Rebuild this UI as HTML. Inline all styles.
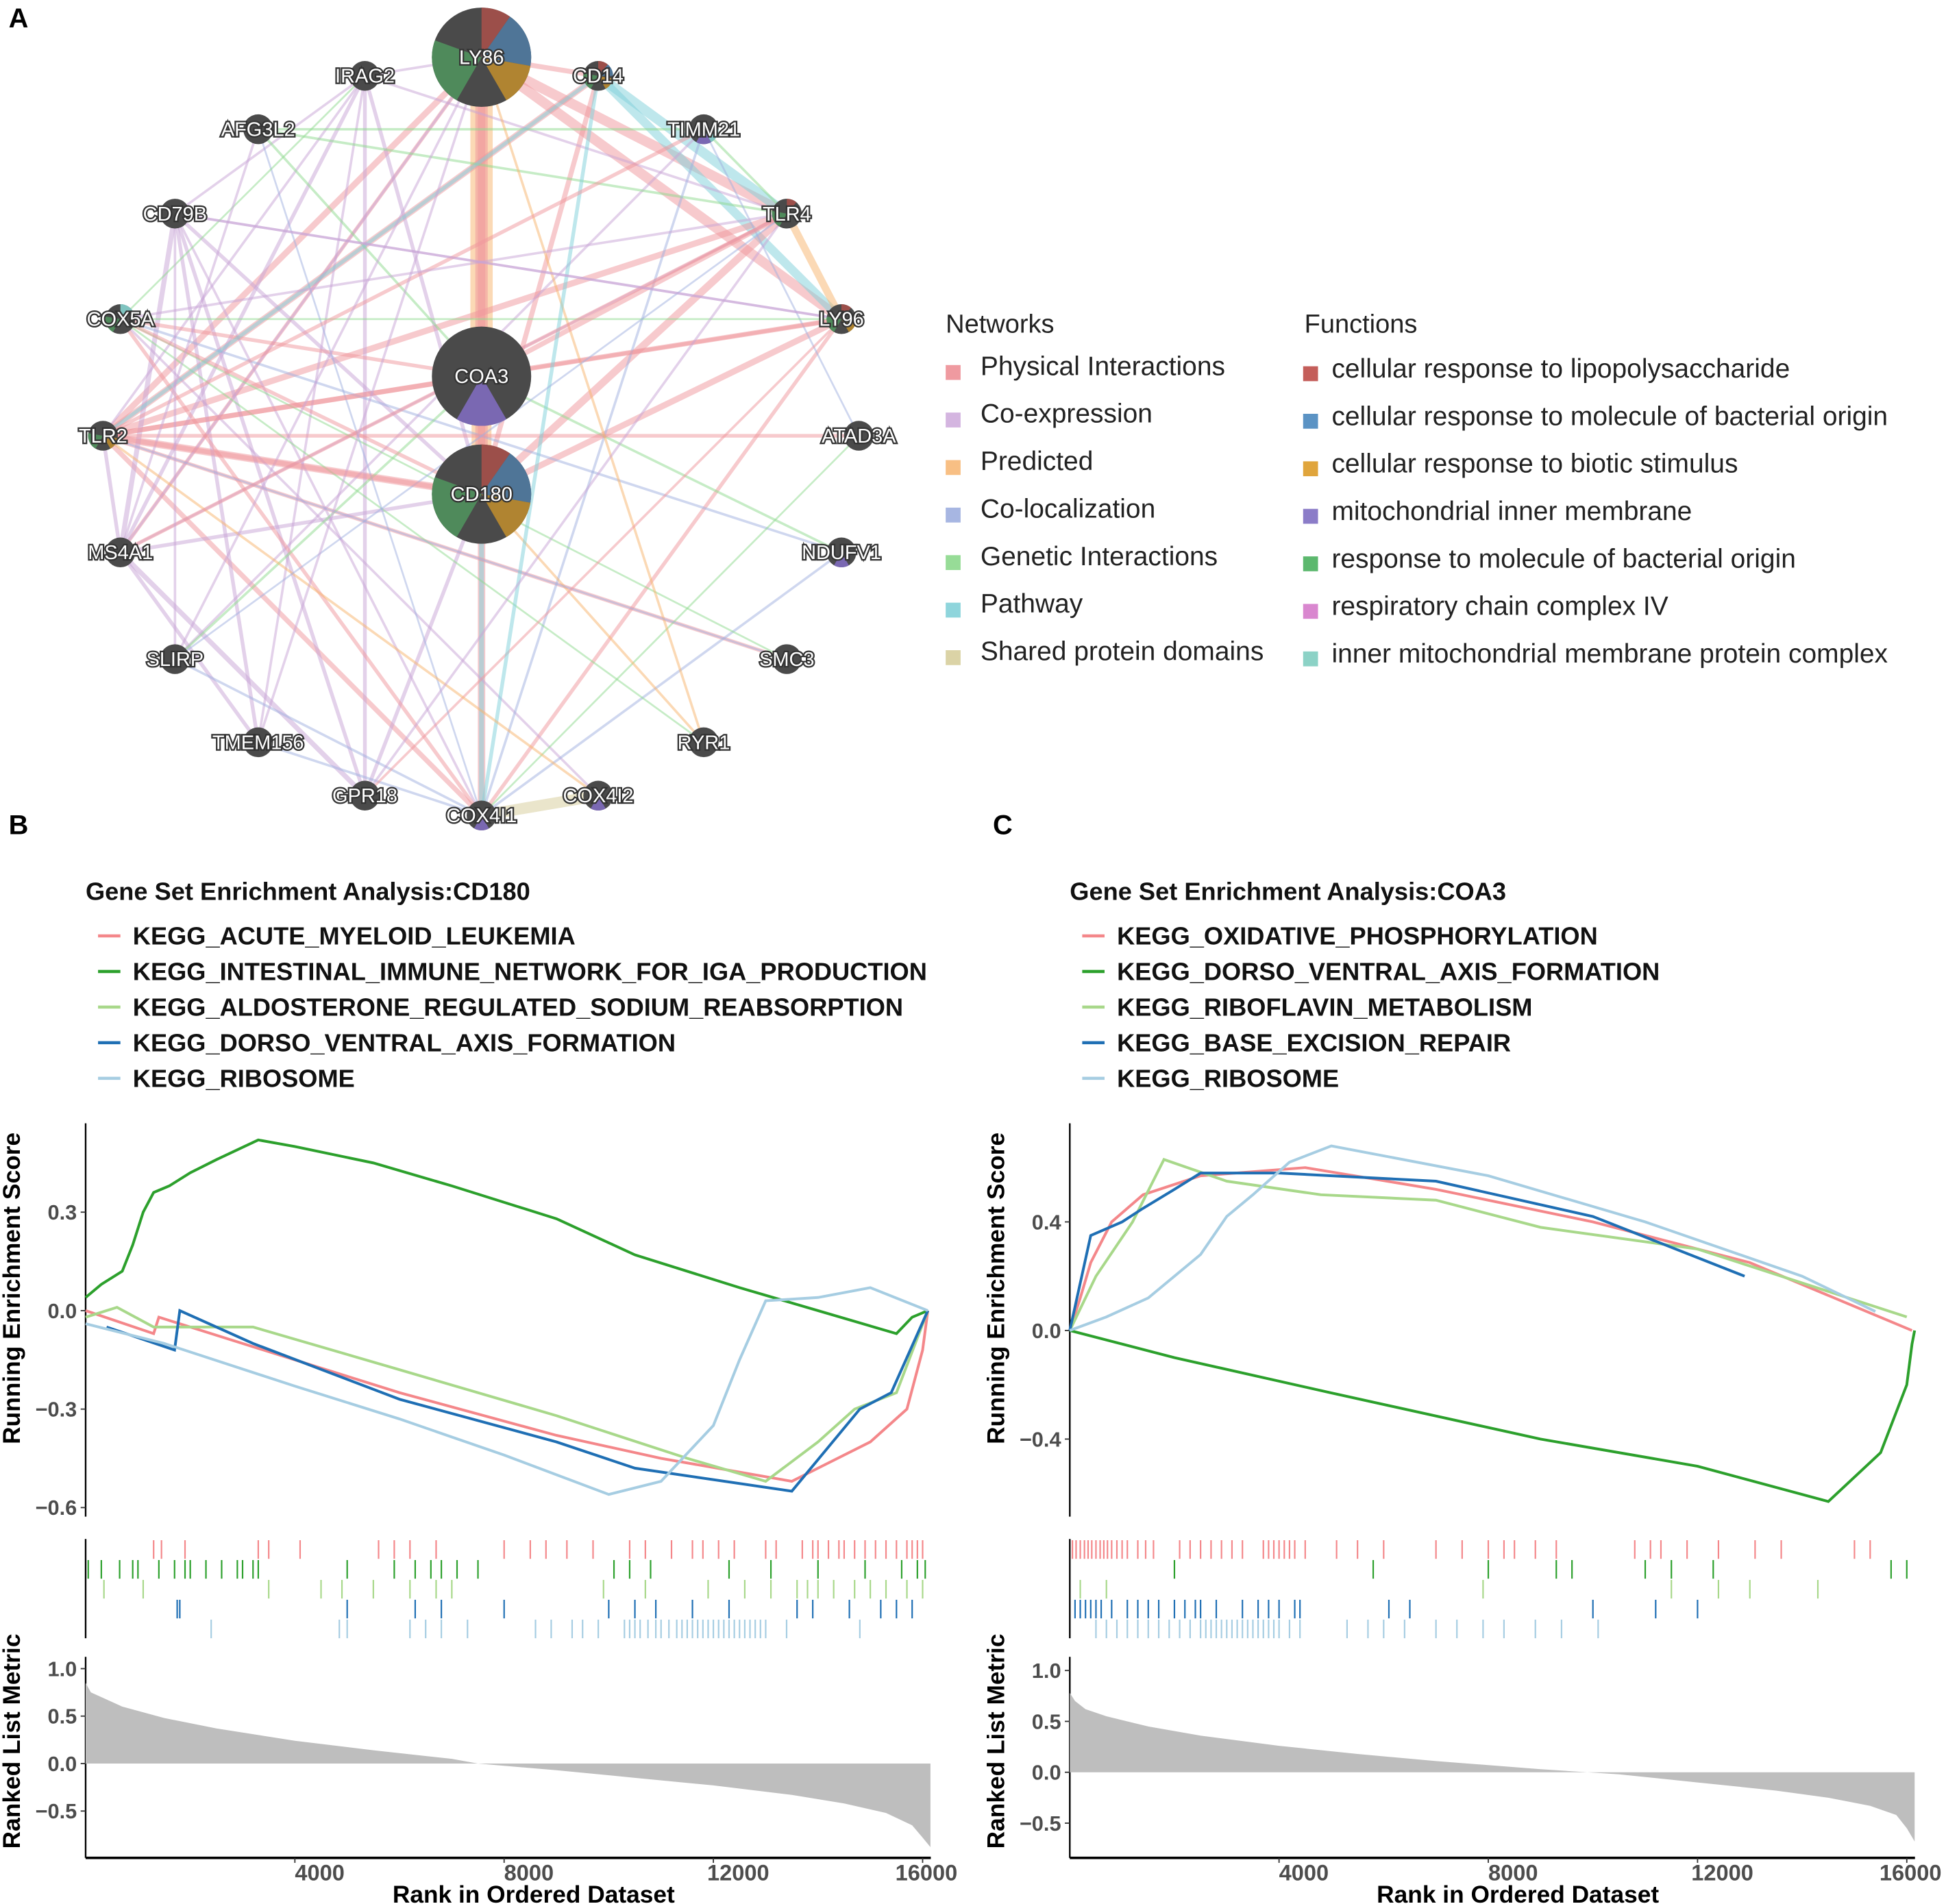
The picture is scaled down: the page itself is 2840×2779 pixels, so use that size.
<!DOCTYPE html>
<html><head><meta charset="utf-8"><style>
html,body{margin:0;padding:0;background:#fff}
svg{display:block;font-family:"Liberation Sans",Arial,sans-serif}
</style></head><body>
<svg id="fig" width="2840" height="2779" viewBox="0 0 1568 1534" xmlns="http://www.w3.org/2000/svg">
<g id="net"></g>
<g id="leg"></g>
<g id="pb"></g>
<g id="pc"></g>
</svg>
<script>
// ---------- data ----------
const rankTicks=[4000,8000,12000,16000];
const metricRanks=[0,100,300,700,1500,2500,4000,5500,7000,7500,9000,10500,12000,13500,14500,15300,15800,16000,16150];
const metricB=[0.85,0.75,0.7,0.6,0.48,0.37,0.24,0.14,0.05,0.0,-0.07,-0.15,-0.23,-0.33,-0.42,-0.52,-0.65,-0.78,-0.88];
const metricC=[0.78,0.7,0.62,0.55,0.45,0.36,0.26,0.18,0.11,0.09,0.03,-0.02,-0.1,-0.18,-0.25,-0.33,-0.42,-0.55,-0.68];
const setsB=["KEGG_ACUTE_MYELOID_LEUKEMIA","KEGG_INTESTINAL_IMMUNE_NETWORK_FOR_IGA_PRODUCTION","KEGG_ALDOSTERONE_REGULATED_SODIUM_REABSORPTION","KEGG_DORSO_VENTRAL_AXIS_FORMATION","KEGG_RIBOSOME"];
const setsC=["KEGG_OXIDATIVE_PHOSPHORYLATION","KEGG_DORSO_VENTRAL_AXIS_FORMATION","KEGG_RIBOFLAVIN_METABOLISM","KEGG_BASE_EXCISION_REPAIR","KEGG_RIBOSOME"];
const B_red_r=[0,1300,1400,3000,6000,9000,11000,13500,14000,15000,15700,16000,16100];
const B_red_v=[0,-0.07,-0.02,-0.1,-0.25,-0.38,-0.45,-0.52,-0.48,-0.4,-0.3,-0.12,0];
const B_dg_r=[0,300,700,900,1100,1300,1600,2000,2500,3300,4000,5500,7000,9000,10500,12500,14000,15500,15800,16100];
const B_dg_v=[0.04,0.08,0.12,0.2,0.3,0.36,0.38,0.42,0.46,0.52,0.5,0.45,0.38,0.28,0.17,0.07,0.0,-0.07,-0.02,0.0];
const B_lg_r=[0,600,1300,3200,6000,9000,11500,13000,14000,14700,15500,16100];
const B_lg_v=[-0.02,0.01,-0.05,-0.05,-0.18,-0.32,-0.45,-0.52,-0.4,-0.3,-0.25,0];
const B_bl_r=[400,1700,1800,3200,6000,9000,10500,13500,14800,15400,16100];
const B_bl_v=[-0.05,-0.12,0.0,-0.1,-0.27,-0.4,-0.48,-0.55,-0.3,-0.25,0];
const B_lb_r=[0,1500,4000,6000,8000,10000,11000,12000,12500,13000,14000,15000,16100];
const B_lb_v=[-0.04,-0.1,-0.23,-0.33,-0.44,-0.56,-0.52,-0.35,-0.15,0.03,0.04,0.07,0.0];
const C_red_r=[0,200,400,800,1400,2500,4500,7000,10000,13000,16100];
const C_red_v=[0,0.12,0.25,0.4,0.5,0.57,0.6,0.52,0.4,0.25,0];
const C_dg_r=[0,2000,5000,9000,12000,14500,15500,16000,16100,16150];
const C_dg_v=[0,-0.1,-0.23,-0.4,-0.5,-0.63,-0.45,-0.2,-0.05,0];
const C_lg_r=[0,500,1200,1800,3000,4800,7000,9000,12000,16000];
const C_lg_v=[0,0.2,0.4,0.63,0.55,0.5,0.48,0.38,0.3,0.05];
const C_bl_r=[0,400,1000,1400,2000,2500,4000,7000,10000,12900];
const C_bl_v=[0,0.35,0.4,0.45,0.52,0.58,0.58,0.55,0.42,0.2];
const C_lb_r=[0,700,1500,2500,3000,3500,4200,5000,8000,11000,14000,15400];
const C_lb_v=[0,0.05,0.12,0.28,0.42,0.5,0.62,0.68,0.57,0.4,0.2,0.07];
const hitsB_red=[1300,1450,1900,3300,3500,4100,5600,5900,6200,6700,8000,8500,8800,9200,9700,10400,10700,11200,11600,11800,12100,12400,13000,13200,13700,13900,14000,14200,14400,14500,14700,14900,15100,15300,15500,15700,15800,15900,16000];
const hitsB_dg=[50,300,650,900,1000,1400,1700,1900,2000,2300,2600,2900,3000,3200,3300,5000,5900,6300,6600,6800,7100,7500,10100,10400,10800,12300,13100,14000,14900,15600,15900,16050];
const hitsB_lg=[350,1100,3500,4500,4900,5500,6200,6700,7000,9900,10700,11900,12600,13100,13600,13800,14000,14300,14700,15000,15300,15700,16000];
const hitsB_bl=[1750,1800,5000,6300,6800,8000,10000,10500,10900,11600,12300,13600,13900,14600,15200,15500,15800];
const hitsB_lb=[2400,4850,5000,6200,6500,6800,7300,8600,8900,9300,9500,9800,10300,10400,10500,10600,10750,10900,11000,11150,11300,11400,11500,11600,11700,11800,11900,12000,12100,12200,12300,12400,12500,12600,12700,12800,12900,13000,13400,14800];
const hitsC_red=[50,120,200,280,350,420,500,580,650,720,800,900,1000,1100,1300,1450,1600,2100,2300,2500,2700,2900,3100,3300,3700,3800,3900,4000,4100,4200,4300,4500,5100,5500,6000,7000,7500,8000,8300,8500,8900,9300,10800,11100,11300,11800,12400,13100,13600,15000,15300];
const hitsC_dg=[2000,5800,8000,9300,9600,11000,11500,12300,15700,16000];
const hitsC_lg=[200,700,7900,11500,12400,13000,14300];
const hitsC_bl=[100,200,300,400,500,600,800,1100,1300,1500,1700,2000,2200,2400,2500,2800,3300,3600,3800,4000,4300,4400,6100,6500,10000,11200,12000];
const hitsC_lb=[500,700,900,1100,1300,1500,1700,1900,2100,2300,2500,2600,2700,2800,2900,3000,3100,3200,3300,3400,3500,3600,3700,3800,3900,4000,4200,4400,5300,5700,6000,6400,7000,7400,7900,8300,8900,9400,10100];

// ---------- helpers ----------
const NS="http://www.w3.org/2000/svg";
function mk(parent,tag,attrs,text){const e=document.createElementNS(NS,tag);for(const k in attrs)e.setAttribute(k,attrs[k]);if(text!==undefined)e.textContent=text;parent.appendChild(e);return e;}

// ---------- network ----------
const net=document.getElementById('net');
const nodes={LY86:[388,46,40],COA3:[388,303,40],CD180:[388,398,40],IRAG2:[294,61,12],CD14:[482,61,12],AFG3L2:[208,104,12],TIMM21:[567,104,12],CD79B:[141,172,12],TLR4:[634,172,12],COX5A:[97,257,12],LY96:[678,257,12],TLR2:[83,351,12],ATAD3A:[692,351,12],MS4A1:[97,445,12],NDUFV1:[678,445,12],SLIRP:[141,531,12],SMC3:[634,531,12],TMEM156:[208,598,12],RYR1:[567,598,12],GPR18:[294,641,12],COX4I2:[482,641,12],COX4I1:[388,657,12]};
const ecol={P:"#ef959b",C:"#c7a3d6",R:"#f7b46c",L:"#9fb0e0",G:"#8ed98e",W:"#7ed0da",S:"#d6cc98"};
const edges=[["LY86","COA3","R",18],["COA3","CD180","R",16],["LY86","CD180","P",10],["LY86","COX4I1","P",6],["CD180","COX4I1","W",4],
["LY86","TLR4","P",8],["LY86","LY96","P",8],["LY86","CD14","P",4],["CD14","TLR4","W",8],["CD14","LY96","W",7],["CD14","TLR2","P",5],["CD14","CD180","P",4],["TLR4","LY96","R",6],["TLR4","TLR2","P",5],
["CD180","TLR2","P",6],["CD180","TLR4","P",6],["CD180","LY96","P",5],["LY86","TLR2","P",5],["LY86","MS4A1","P",3],["TLR2","LY96","P",4],["TLR2","COX4I1","P",4],["TLR2","SMC3","P",3],["LY96","COX4I1","P",3],
["CD79B","MS4A1","C",4],["CD79B","GPR18","C",3],["CD79B","TMEM156","C",3],["MS4A1","GPR18","C",4],["MS4A1","TMEM156","C",3],["IRAG2","GPR18","C",3],["IRAG2","MS4A1","C",3],["IRAG2","CD180","C",3],["IRAG2","CD79B","C",2],["CD79B","CD180","C",3],["MS4A1","CD180","C",3],["TLR2","MS4A1","C",3],["GPR18","CD180","C",3],["IRAG2","TLR2","C",2],["IRAG2","LY86","C",2],["IRAG2","TMEM156","C",2],["CD79B","COX4I1","C",2],["MS4A1","LY86","C",2],["TLR4","MS4A1","C",2],["IRAG2","TLR4","C",2],["TIMM21","SLIRP","C",2],
["COX4I1","COX4I2","S",9],["COX5A","COX4I1","P",3],["COX5A","COX4I2","C",2],["COX5A","NDUFV1","L",2],["NDUFV1","COX4I1","L",2],["AFG3L2","COA3","G",2],["AFG3L2","TIMM21","G",2],["AFG3L2","TLR4","G",2],["COA3","SLIRP","G",2],["COA3","NDUFV1","G",2],["TIMM21","COX4I1","L",2],["ATAD3A","COX4I1","G",1.5],["ATAD3A","TLR2","P",3],["ATAD3A","TIMM21","L",1.5],["SMC3","COX5A","G",1.5],["RYR1","CD180","R",2],["RYR1","COX5A","G",1.5],["RYR1","LY86","R",2],["SMC3","TLR2","L",1.5],["COX5A","LY96","G",1.5],["COX5A","COA3","P",3],["COX5A","CD180","P",3],["SLIRP","COX4I1","L",2],["TMEM156","COX4I1","L",2],["GPR18","LY96","P",2],["AFG3L2","COX4I1","L",1.5],["COA3","TLR4","P",4],["COA3","TLR2","P",4],["COA3","LY96","P",3],["CD14","COX4I1","W",3],["TIMM21","TLR4","G",2],["TLR2","COX4I2","R",2],["CD14","TLR2","W",3],["LY96","CD79B","C",2],["TLR4","SLIRP","L",1.5],["IRAG2","COX5A","G",1.5],
["TLR2","TIMM21","P",3],["MS4A1","TLR4","P",3],["CD79B","LY96","C",2],["COX5A","TLR4","C",2],["SLIRP","LY86","C",2],["TMEM156","LY86","C",2],["GPR18","TLR4","C",2],["AFG3L2","MS4A1","C",2],["TLR2","CD180","P",4],["CD79B","SLIRP","C",2]];
edges.forEach(e=>{const a=nodes[e[0]],b=nodes[e[1]];
 const l=mk(net,'line',{x1:a[0],y1:a[1],x2:b[0],y2:b[1],stroke:ecol[e[2]],'stroke-width':e[3],'stroke-opacity':0.5});
 
 });
const pies={LY86:[["#9c4f4a",0,35],["#4f7597",35,100],["#b08431",100,150],["#4f8a5b",210,290]],CD180:[["#9c4f4a",0,35],["#4f7597",35,100],["#b08431",100,150],["#4f8a5b",210,290]],COA3:[["#7a68b2",150,210]],CD14:[["#9c4f4a",0,40],["#4f7597",40,90],["#b08431",100,150],["#4f8a5b",210,280]],TLR4:[["#9c4f4a",0,40],["#4f8a5b",210,280]],LY96:[["#9c4f4a",0,40],["#b08431",100,150],["#4f8a5b",210,280]],TLR2:[["#b08431",100,150],["#4f8a5b",210,280]],TIMM21:[["#7a68b2",150,210],["#7fc4c0",90,150]],COX5A:[["#4f8a5b",210,280],["#7fc4c0",0,60]],NDUFV1:[["#7a68b2",150,210]],COX4I2:[["#7a68b2",150,210]],COX4I1:[["#7a68b2",150,210]]};
function pt(cx,cy,r,deg){const a=(deg-90)*Math.PI/180;return [cx+r*Math.cos(a),cy+r*Math.sin(a)];}
for(const n in nodes){const [x,y,r]=nodes[n];
 const g=mk(net,'g',{});
 
 
 mk(g,'circle',{cx:x,cy:y,r:r,fill:'#4a4a4a'});
 (pies[n]||[]).forEach(s=>{const p1=pt(x,y,r,s[1]),p2=pt(x,y,r,s[2]);
   mk(g,'path',{d:`M${x},${y}L${p1[0]},${p1[1]}A${r},${r} 0 ${(s[2]-s[1])>180?1:0} 1 ${p2[0]},${p2[1]}Z`,fill:s[0]});});
 const fs=r>20?16:16;
 mk(g,'text',{x:x,y:y+5.5,'text-anchor':'middle','font-size':fs,fill:'#fff',stroke:'#333','stroke-width':2.5,'paint-order':'stroke'},n);
}
mk(document.getElementById('fig'),'text',{x:7,y:22,'font-size':22,'font-weight':'bold'},'A');

// ---------- legend ----------
const leg=document.getElementById('leg');
mk(leg,'text',{x:762,y:268,'font-size':21,fill:'#222'},'Networks');
mk(leg,'text',{x:1051,y:268,'font-size':21,fill:'#222'},'Functions');
const netItems=[["Physical Interactions","#ef9aa0"],["Co-expression","#d4b5e0"],["Predicted","#f8bf84"],["Co-localization","#a7b6e2"],["Genetic Interactions","#97dc97"],["Pathway","#8fd5dc"],["Shared protein domains","#dbd3a6"]];
const funcItems=[["cellular response to lipopolysaccharide","#c45e5a"],["cellular response to molecule of bacterial origin","#5b93c4"],["cellular response to biotic stimulus","#e0a53c"],["mitochondrial inner membrane","#8b7cc8"],["response to molecule of bacterial origin","#5cb86e"],["respiratory chain complex IV","#d987cf"],["inner mitochondrial membrane protein complex","#8cd2c6"]];
netItems.forEach((it,i)=>{const y=301+i*38.3;const g=mk(leg,'g',{});
 
 
 mk(g,'rect',{x:762,y:y-7,width:12,height:12,fill:it[1]});mk(g,'text',{x:790,y:y+1,'font-size':21.5,fill:'#222'},it[0]);});
funcItems.forEach((it,i)=>{const y=302+i*38.3;const g=mk(leg,'g',{});
 
 
 mk(g,'rect',{x:1050,y:y-7,width:12,height:12,fill:it[1]});mk(g,'text',{x:1073,y:y+2,'font-size':21.5,fill:'#222'},it[0]);});

// ---------- GSEA ----------
const cols=["#f4878a","#2ca02c","#a8d88a","#1f6fb4","#a6cde2"];
function gsea(gid,x0,letter,title,sets,curvesR,curvesV,hits,metric,esTicks,esZero,esScale,mZero,mScale){
 const g=document.getElementById(gid);
 const xr=r=>x0+r*0.04215;
 const ey=v=>esZero-v*esScale, my=v=>mZero-v*mScale;
 mk(g,'text',{x:x0-62,y:672,'font-size':22,'font-weight':'bold'},letter);
 mk(g,'text',{x:x0,y:725,'font-size':20,'font-weight':'bold',fill:'#111'},title);
 sets.forEach((s,i)=>{const y=754+i*28.7;const lg=mk(g,'g',{});
  
  
  mk(lg,'line',{x1:x0+10,x2:x0+28,y1:y,y2:y,stroke:cols[i],'stroke-width':2.5});
  mk(lg,'text',{x:x0+38,y:y+7,'font-size':20,'font-weight':'bold',fill:'#111'},s);});
 mk(g,'line',{x1:x0,x2:x0,y1:905,y2:1222,stroke:'#000','stroke-width':1.3});
 mk(g,'line',{x1:x0,x2:x0,y1:1240,y2:1320,stroke:'#000','stroke-width':1.3});
 mk(g,'line',{x1:x0,x2:x0,y1:1335,y2:1497,stroke:'#000','stroke-width':1.3});
 mk(g,'line',{x1:x0,x2:x0+681,y1:1497,y2:1497,stroke:'#000','stroke-width':2});
 esTicks.forEach(v=>{const y=ey(v);mk(g,'line',{x1:x0-4,x2:x0,y1:y,y2:y,stroke:'#333'});
  mk(g,'text',{x:x0-7,y:y+6,'font-size':17,'font-weight':'bold',fill:'#4d4d4d','text-anchor':'end'},(v<0?'\u2212':'')+Math.abs(v).toFixed(1));});
 [1.0,0.5,0.0,-0.5].forEach(v=>{const y=my(v);mk(g,'line',{x1:x0-4,x2:x0,y1:y,y2:y,stroke:'#333'});
  mk(g,'text',{x:x0-7,y:y+6,'font-size':17,'font-weight':'bold',fill:'#4d4d4d','text-anchor':'end'},(v<0?'\u2212':'')+Math.abs(v).toFixed(1));});
 rankTicks.forEach((r,i)=>{const x=xr(r);mk(g,'line',{x1:x,x2:x,y1:1497,y2:1501,stroke:'#333'});
  mk(g,'text',{x:x+(i===rankTicks.length-1?3:20),y:1515,'font-size':18,'font-weight':'bold',fill:'#4d4d4d','text-anchor':'middle'},r);});
 mk(g,'text',{x:x0+361,y:1533,'font-size':19.5,'font-weight':'bold','text-anchor':'middle'},'Rank in Ordered Dataset');
 mk(g,'text',{x:0,y:0,'font-size':19.5,'font-weight':'bold','text-anchor':'middle',transform:`translate(${x0-53},1038) rotate(-90)`},'Running Enrichment Score');
 mk(g,'text',{x:0,y:0,'font-size':19.5,'font-weight':'bold','text-anchor':'middle',transform:`translate(${x0-53},1403) rotate(-90)`},'Ranked List Metric');
 let d=`M${xr(metricRanks[0])},${my(0)}`;
 metricRanks.forEach((r,i)=>{d+=`L${xr(r)},${my(metric[i])}`;});
 d+=`L${xr(metricRanks[metricRanks.length-1])},${my(0)}Z`;
 const area=mk(g,'path',{d:d,fill:'#bebebe'});
 
 
 hits.forEach((arr,i)=>{const y1=1241+i*16;arr.forEach(r=>{
  const l=mk(g,'line',{x1:xr(r),x2:xr(r),y1:y1,y2:y1+15,stroke:cols[i],'stroke-width':1.2});
  
  });});
 curvesR.forEach((rs,i)=>{const vs=curvesV[i];let p=`M${xr(rs[0])},${ey(vs[0])}`;
  for(let k=1;k<rs.length;k++){p+=`L${xr(rs[k])},${ey(vs[k])}`;}
  const c=mk(g,'path',{d:p,fill:'none',stroke:cols[i],'stroke-width':2.2});
  
  });
}
gsea('pb',69,'B','Gene Set Enrichment Analysis:CD180',setsB,
 [B_red_r,B_dg_r,B_lg_r,B_bl_r,B_lb_r],[B_red_v,B_dg_v,B_lg_v,B_bl_v,B_lb_v],
 [hitsB_red,hitsB_dg,hitsB_lg,hitsB_bl,hitsB_lb],metricB,[0.3,0.0,-0.3,-0.6],1056,264.5,1421,76.5);
gsea('pc',862,'C','Gene Set Enrichment Analysis:COA3',setsC,
 [C_red_r,C_dg_r,C_lg_r,C_bl_r,C_lb_r],[C_red_v,C_dg_v,C_lg_v,C_bl_v,C_lb_v],
 [hitsC_red,hitsC_dg,hitsC_lg,hitsC_bl,hitsC_lb],metricC,[0.4,0.0,-0.4],1072,218.75,1428,82);
</script>
</body></html>
